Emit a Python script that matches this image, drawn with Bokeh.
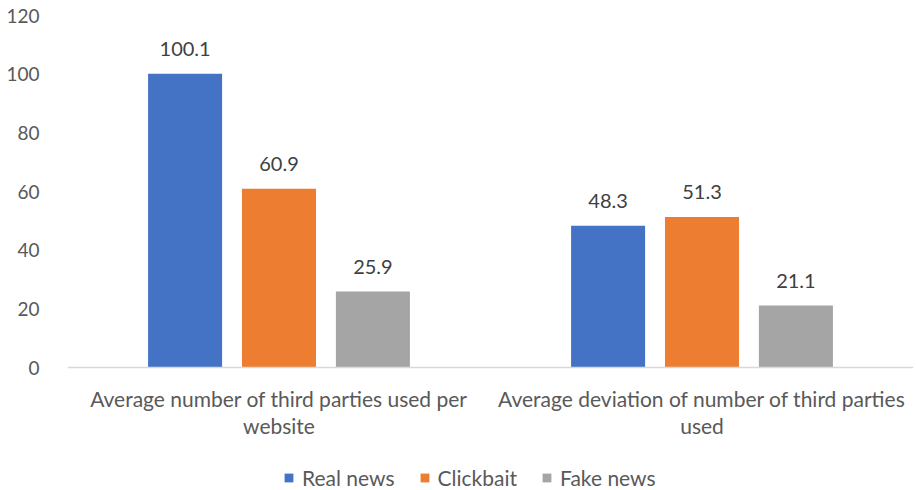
from bokeh.plotting import figure
from bokeh.models import ColumnDataSource, Range1d, Legend, LegendItem, FixedTicker, Span
from bokeh.embed import file_html
from bokeh.resources import INLINE
from bokeh.core.properties import value

# Data
categories = ["Average number of third parties used per\nwebsite",
              "Average deviation of number of third parties\nused"]
series = ["Real news", "Clickbait", "Fake news"]
real_news = [100.1, 48.3]
clickbait = [60.9, 51.3]
fake_news = [25.9, 21.1]
colors = ["#4472C4", "#ED7D31", "#A5A5A5"]
y_ticks = [0, 20, 40, 60, 80, 100, 120]

FONT = "Lato"
TEXT_COLOR = "#595959"

# The plot frame reaches down to the page bottom so the category labels and
# legend sit inside it, below the value axis' zero line.
Y_MAX = 120
Y_MIN = -Y_MAX * 123 / 352

p = figure(width=916, height=490, output_backend="svg", toolbar_location=None,
           x_range=Range1d(0, len(categories)), y_range=Range1d(Y_MIN, Y_MAX),
           x_axis_location=None,
           min_border_left=67, min_border_right=3, min_border_top=15,
           min_border_bottom=0, outline_line_color=None)
p.background_fill_color = "white"
p.border_fill_color = "white"
p.xgrid.visible = False
p.ygrid.visible = False

centers = [i + 0.5 for i in range(len(categories))]
offsets = [-0.222, 0.0, 0.222]
bar_w = 0.175

items = []
for vals, name, col, off in zip([real_news, clickbait, fake_news], series, colors, offsets):
    xs = [c + off for c in centers]
    src = ColumnDataSource(dict(x=xs, top=vals, label=[f"{v:.1f}" for v in vals]))
    r = p.vbar(x="x", top="top", width=bar_w, bottom=0, source=src,
               fill_color=col, line_color=None)
    p.text(x="x", y="top", text="label", source=src, text_align="center",
           text_baseline="middle", y_offset=-25, text_font=value(FONT),
           text_font_size="20px", text_color="#404040")
    items.append(LegendItem(label=name, renderers=[r]))

# category axis line and labels
p.add_layout(Span(location=0, dimension="width", line_color="#D9D9D9", line_width=1.5))
cat_src = ColumnDataSource(dict(x=centers, y=[0] * len(centers), text=categories))
p.text(x="x", y="y", text="text", source=cat_src, text_align="center",
       text_baseline="top", y_offset=18, text_font=value(FONT),
       text_font_size="21px", text_color=TEXT_COLOR, text_line_height=1.08)

# value axis
p.yaxis.ticker = FixedTicker(ticks=y_ticks)
p.yaxis.axis_line_color = None
p.yaxis.major_tick_line_color = None
p.yaxis.minor_tick_line_color = None
p.yaxis.major_label_text_font = FONT
p.yaxis.major_label_text_font_size = "19px"
p.yaxis.major_label_text_color = TEXT_COLOR
p.yaxis.major_label_standoff = 22

legend = Legend(items=items, orientation="horizontal", location=(216, 0),
                label_text_font=FONT, label_text_font_size="21px",
                label_text_color=TEXT_COLOR, glyph_width=11, glyph_height=11,
                spacing=24, label_standoff=8, border_line_color=None,
                background_fill_alpha=0, margin=0, padding=0)
p.add_layout(legend, "center")

open("out.html", "w").write(file_html(p, INLINE))
